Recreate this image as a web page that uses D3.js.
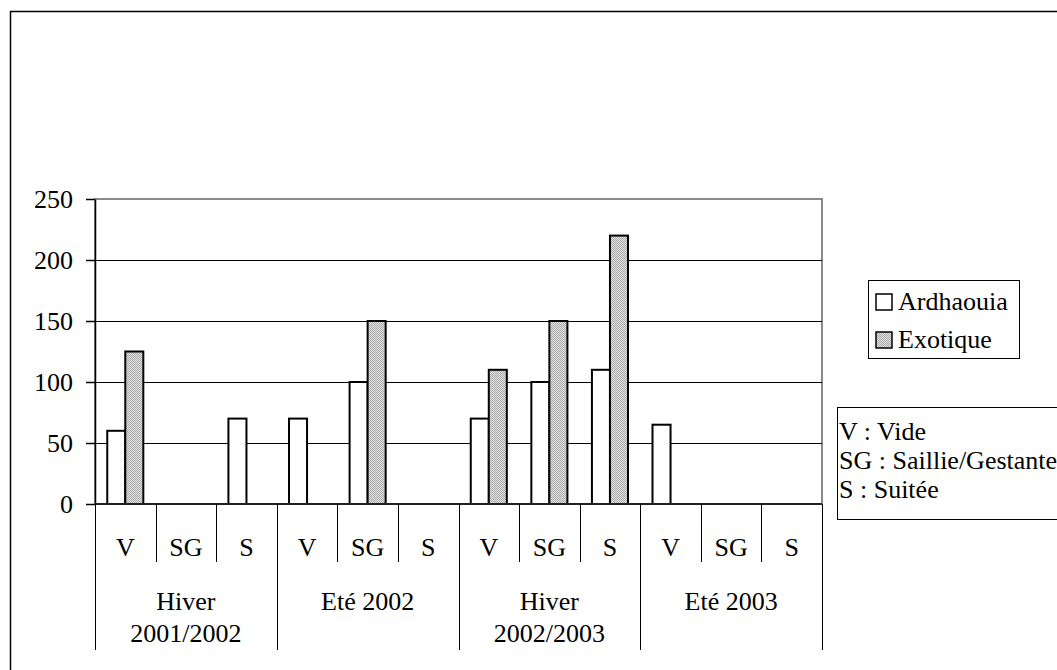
<!DOCTYPE html>
<html>
<head>
<meta charset="utf-8">
<script src="https://cdn.jsdelivr.net/npm/d3@7"></script>
<style>
  body { margin: 0; background: #fff; }
</style>
</head>
<body>
<script>
// chart data ------------------------------------------------------------
var groups = [["Hiver", "2001/2002"], ["Eté 2002"], ["Hiver", "2002/2003"], ["Eté 2003"]];
var subs = ["V", "SG", "S"];
var seriesNames = ["Ardhaouia", "Exotique"];
// one value per (group, sub) pair, null = no bar
var ardhaouia = [60, null, 70, 70, 100, null, 70, 100, 110, 65, null, null];
var exotique = [125, null, null, null, 150, null, 110, 150, 220, null, null, null];
var yTicks = [0, 50, 100, 150, 200, 250];
var notes = ["V : Vide", "SG : Saillie/Gestante", "S : Suitée"];

var svgWidth = 1057, svgHeight = 670;
var plot = { left: 95, right: 822, top: 199, bottom: 504 };
var fontSize = "26px";
var serif = "'Liberation Serif', 'Times New Roman', Times, 'DejaVu Serif', serif";

var svg = d3.select("body").append("svg")
  .attr("width", svgWidth)
  .attr("height", svgHeight);

// stippled grey fill for Exotique
var pat = svg.append("defs").append("pattern")
  .attr("id", "stipple")
  .attr("width", 2).attr("height", 2)
  .attr("patternUnits", "userSpaceOnUse");
pat.append("rect").attr("width", 2).attr("height", 2).attr("fill", "#e4e4e4");
pat.append("rect").attr("width", 1).attr("height", 1).attr("fill", "#a8a8a8");
pat.append("rect").attr("x", 1).attr("y", 1).attr("width", 1).attr("height", 1).attr("fill", "#a8a8a8");

// outer frame
svg.append("rect")
  .attr("x", 10.5).attr("y", 11.5)
  .attr("width", 1100).attr("height", 700)
  .attr("fill", "none").attr("stroke", "#000").attr("stroke-width", 1.5);

// flat list of categories
var cats = [];
groups.forEach(function(g, gi) {
  subs.forEach(function(s, si) { cats.push({ g: gi, s: s, i: gi * subs.length + si }); });
});

var x = d3.scaleBand()
  .domain(d3.range(cats.length))
  .range([plot.left, plot.right]);

var x1 = d3.scaleBand()
  .domain(seriesNames)
  .range([0, x.bandwidth()])
  .paddingOuter(0.68);

var y = d3.scaleLinear()
  .domain([0, 250])
  .range([plot.bottom, plot.top]);

// plot area border (grey)
svg.append("rect")
  .attr("x", plot.left).attr("y", plot.top)
  .attr("width", plot.right - plot.left).attr("height", plot.bottom - plot.top)
  .attr("fill", "none").attr("stroke", "#8a8a8a").attr("stroke-width", 2);

// gridlines
svg.append("g").selectAll("line")
  .data(yTicks.filter(function(t) { return t > 0 && t < 250; }))
  .enter().append("line")
  .attr("x1", plot.left).attr("x2", plot.right)
  .attr("y1", function(d) { return Math.round(y(d)) + 0.5; })
  .attr("y2", function(d) { return Math.round(y(d)) + 0.5; })
  .attr("stroke", "#000").attr("stroke-width", 1);

// bars
var series = [
  { name: "Ardhaouia", values: ardhaouia, fill: "#fff" },
  { name: "Exotique", values: exotique, fill: "url(#stipple)" }
];
series.forEach(function(sr) {
  svg.append("g").selectAll("rect")
    .data(cats.filter(function(c) { return sr.values[c.i] != null; }))
    .enter().append("rect")
    .attr("x", function(c) { return x(c.i) + x1(sr.name); })
    .attr("y", function(c) { return y(sr.values[c.i]); })
    .attr("width", x1.bandwidth())
    .attr("height", function(c) { return y(0) - y(sr.values[c.i]); })
    .attr("fill", sr.fill)
    .attr("stroke", "#000").attr("stroke-width", 2);
});

// y axis
var yAxis = d3.axisLeft(y)
  .tickValues(yTicks)
  .tickSize(9)
  .tickSizeOuter(0)
  .tickPadding(13);
var gy = svg.append("g")
  .attr("transform", "translate(" + plot.left + ",0)")
  .call(yAxis)
  .attr("font-family", null)
  .attr("font-size", null);
gy.selectAll("text").style("font-family", serif).style("font-size", fontSize).attr("fill", "#000");
gy.selectAll("line, path").attr("stroke", "#000").attr("stroke-width", 1.5);

// category axis: sub labels with separators, then group labels
var catAxis = svg.append("g");
catAxis.append("line")
  .attr("x1", plot.left).attr("x2", plot.right)
  .attr("y1", plot.bottom).attr("y2", plot.bottom)
  .attr("stroke", "#222").attr("stroke-width", 2);

catAxis.selectAll(".sep")
  .data(d3.range(cats.length + 1))
  .enter().append("line")
  .attr("x1", function(i) { return Math.round(plot.left + i * x.step()) + 0.5; })
  .attr("x2", function(i) { return Math.round(plot.left + i * x.step()) + 0.5; })
  .attr("y1", plot.bottom)
  .attr("y2", function(i) { return i % subs.length === 0 ? 650 : 562; })
  .attr("stroke", "#000").attr("stroke-width", 1);

catAxis.selectAll(".sub")
  .data(cats)
  .enter().append("text")
  .attr("x", function(c) { return x(c.i) + x.bandwidth() / 2; })
  .attr("y", 556)
  .attr("text-anchor", "middle")
  .style("font-family", serif).style("font-size", fontSize)
  .text(function(c) { return c.s; });

var gw = x.step() * subs.length;
catAxis.selectAll(".grp")
  .data(groups)
  .enter().append("text")
  .attr("x", function(d, gi) { return plot.left + gi * gw + gw / 2; })
  .attr("y", 610)
  .attr("text-anchor", "middle")
  .style("font-family", serif).style("font-size", fontSize)
  .selectAll("tspan")
  .data(function(d) { return d; })
  .enter().append("tspan")
  .attr("x", function() { return this.parentNode.getAttribute("x"); })
  .attr("dy", function(d, i) { return i === 0 ? 0 : 32; })
  .text(function(d) { return d; });

// legend
var leg = svg.append("g");
leg.append("rect")
  .attr("x", 868.5).attr("y", 280.5).attr("width", 151).attr("height", 78)
  .attr("fill", "#fff").attr("stroke", "#000").attr("stroke-width", 1);
series.forEach(function(sr, i) {
  var cy = 302 + i * 38;
  leg.append("rect")
    .attr("x", 876).attr("y", cy - 8).attr("width", 16).attr("height", 16)
    .attr("fill", sr.fill).attr("stroke", "#000").attr("stroke-width", 1.5);
  leg.append("text")
    .attr("x", 898).attr("y", cy + 8)
    .style("font-family", serif).style("font-size", fontSize)
    .text(sr.name);
});

// notes box
svg.append("rect")
  .attr("x", 837.5).attr("y", 407.5).attr("width", 240).attr("height", 112)
  .attr("fill", "#fff").attr("stroke", "#000").attr("stroke-width", 1);
svg.append("g").selectAll("text")
  .data(notes)
  .enter().append("text")
  .attr("x", 839)
  .attr("y", function(d, i) { return 440 + i * 29; })
  .style("font-family", serif).style("font-size", fontSize)
  .text(function(d) { return d; });
</script>
</body>
</html>
